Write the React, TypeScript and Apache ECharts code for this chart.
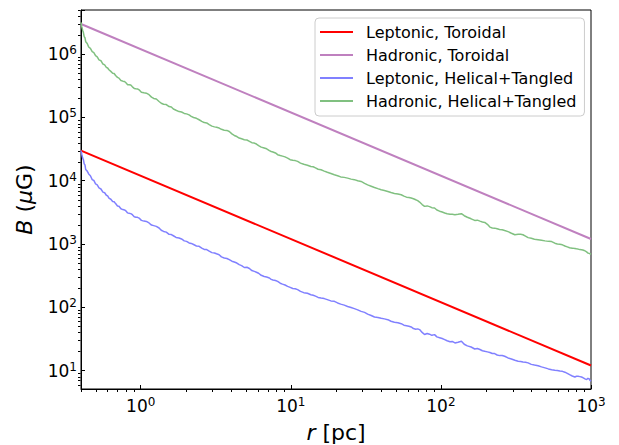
import React, { useEffect, useRef } from 'react';
import * as echarts from 'echarts';

const FONT = 'DejaVu Sans';

const seriesNames = [
  'Leptonic, Toroidal',
  'Hadronic, Toroidal',
  'Leptonic, Helical+Tangled',
  'Hadronic, Helical+Tangled',
];
const seriesColors = ['#ff0000', '#bf80bf', '#8080ff', '#80c080'];

const xMin = 0.4;
const xMax = 1000;
const yMin = 5.1;
const yMax = 5e6;

// Toroidal models: straight lines in log-log space (end points), [r, B]
const leptonicToroidal = [[0.4, 30000], [1000, 12]];
const hadronicToroidal = [[0.4, 3.0e6], [1000, 1200]];

// Helical + tangled models (noisy curves), [r, B]
const leptonicHelical = [
  [0.4, 30000], [0.405, 26000], [0.41, 23000], [0.415, 21500], [0.42, 18500], [0.425, 17800],
  [0.43, 15000], [0.44, 14200], [0.45, 12800], [0.462, 12000], [0.475, 10400], [0.487, 10100],
  [0.5, 8900], [0.513, 8600], [0.527, 7700], [0.543, 7400], [0.56, 6600], [0.575, 6450],
  [0.59, 5900], [0.602, 5750], [0.614, 5300], [0.632, 5100], [0.65, 4700], [0.665, 4650],
  [0.68, 4350], [0.7, 4000], [0.716, 3950], [0.738, 3600], [0.76, 3500], [0.78, 3450],
  [0.8, 3300], [0.818, 3100], [0.836, 3050], [0.858, 3020], [0.88, 2900], [0.905, 2700],
  [0.93, 2650], [0.952, 2640], [0.975, 2570], [1.01, 2360], [1.05, 2300], [1.09, 2270],
  [1.136, 2150], [1.18, 1990], [1.22, 1950], [1.27, 1900], [1.325, 1790], [1.37, 1650],
  [1.42, 1580], [1.48, 1540], [1.545, 1420], [1.6, 1410], [1.65, 1350], [1.72, 1270],
  [1.8, 1245], [1.87, 1200], [1.95, 1120], [2.02, 1100], [2.1, 1040], [2.17, 1020],
  [2.25, 980], [2.35, 930], [2.45, 917], [2.55, 860], [2.65, 820], [2.75, 815], [2.86, 770],
  [2.98, 730], [3.1, 720], [3.2, 700], [3.33, 677], [3.45, 625], [3.6, 600], [3.75, 590],
  [3.89, 565], [4.05, 535], [4.2, 520], [4.37, 500], [4.53, 471], [4.7, 455], [4.9, 425],
  [5.1, 428], [5.3, 410], [5.5, 380], [5.71, 369], [5.9, 358], [6.1, 345], [6.35, 320],
  [6.65, 307], [6.9, 300], [7.2, 290], [7.4, 276], [7.6, 270], [7.9, 265], [8.17, 256],
  [8.5, 240], [8.8, 232], [9.15, 225], [9.52, 214], [9.9, 206], [10.3, 198], [10.7, 196],
  [11.1, 190], [11.6, 178], [12.2, 170], [12.9, 166], [13.6, 158], [14.1, 155], [14.6, 150],
  [15.2, 143], [15.9, 140], [16.7, 137], [17.5, 132], [18.5, 126], [19.5, 124], [20.5, 117],
  [21.5, 112], [22.7, 108], [23.9, 103], [25.2, 99], [26.5, 95], [27.9, 91], [29.4, 86],
  [31, 83], [32.5, 78], [34.3, 74], [36.1, 70], [38, 69], [40, 67], [42, 65.5], [44.3, 63.6],
  [46.5, 60], [49, 58], [51.7, 57], [54.4, 55], [56.7, 52], [59, 51], [61.2, 50], [63.4, 48.8],
  [65.6, 46], [68, 45], [70, 45.5], [72.1, 44.3], [75, 40], [77.8, 37], [81, 38.5], [84, 37.5],
  [87, 36], [90.7, 36.9], [94, 34], [98, 33], [102, 32], [106, 30.8], [110, 29.5], [115, 28.5],
  [119, 28.8], [124, 27.3], [130, 28], [137, 29], [143, 26], [150, 24.5], [159, 23.5],
  [168, 21.9], [175, 22.3], [182, 21.5], [189, 20.5], [196, 20.1], [204, 19.7], [212, 19.3],
  [220, 18.6], [228, 18.5], [237, 17.6], [246, 17.2], [256, 17.3], [266, 16.8], [280, 15.8],
  [295, 15.2], [311, 14.5], [327, 14], [340, 13.9], [352, 13.6], [366, 13.5], [381, 13.2],
  [400, 12.5], [420, 12.2], [444, 11.9], [468, 11.4], [494, 11], [520, 10.6], [547, 10.3],
  [574, 10.1], [597, 10], [620, 9.8], [645, 9.7], [670, 9.4], [695, 9], [720, 8.6], [750, 8.2],
  [781, 7.9], [800, 8.1], [820, 8.1], [843, 8], [865, 7.9], [882, 7.7], [900, 7.5], [918, 7.3],
  [935, 7.2], [952, 7.5], [970, 7.4], [985, 7], [1000, 6.8],
];
const hadronicHelical = [
  [0.4, 3.2e6], [0.405, 2.7e6], [0.41, 2.4e6], [0.415, 2.2e6], [0.42, 1.9e6], [0.425, 1.82e6],
  [0.43, 1.58e6], [0.44, 1.48e6], [0.45, 1.3e6], [0.462, 1.24e6], [0.475, 1.1e6], [0.487, 1.06e6],
  [0.5, 9.5e5], [0.513, 9.1e5], [0.527, 8.15e5], [0.543, 7.9e5], [0.56, 7.0e5], [0.575, 6.8e5],
  [0.59, 6.2e5], [0.602, 6.05e5], [0.614, 5.67e5], [0.632, 5.35e5], [0.65, 5.0e5], [0.665, 4.95e5],
  [0.68, 4.6e5], [0.7, 4.3e5], [0.716, 4.19e5], [0.738, 3.85e5], [0.76, 3.75e5], [0.78, 3.7e5],
  [0.8, 3.5e5], [0.818, 3.3e5], [0.836, 3.29e5], [0.858, 3.25e5], [0.88, 3.05e5], [0.905, 2.88e5],
  [0.93, 2.85e5], [0.952, 2.83e5], [0.975, 2.74e5], [1.01, 2.5e5], [1.05, 2.45e5], [1.09, 2.42e5],
  [1.136, 2.29e5], [1.18, 2.1e5], [1.22, 2.0e5], [1.27, 1.96e5], [1.325, 1.79e5], [1.37, 1.68e5],
  [1.42, 1.62e5], [1.48, 1.6e5], [1.545, 1.49e5], [1.6, 1.46e5], [1.65, 1.36e5], [1.72, 1.3e5],
  [1.8, 1.24e5], [1.87, 1.22e5], [1.95, 1.16e5], [2.02, 1.14e5], [2.1, 1.1e5], [2.17, 1.04e5],
  [2.25, 1.0e5], [2.35, 9.7e4], [2.45, 9.2e4], [2.55, 8.7e4], [2.65, 8.3e4], [2.75, 8.2e4],
  [2.86, 7.7e4], [2.98, 7.3e4], [3.1, 7.1e4], [3.2, 7.0e4], [3.33, 6.8e4], [3.45, 6.5e4],
  [3.6, 6.3e4], [3.75, 6.25e4], [3.89, 6.0e4], [4.05, 5.5e4], [4.2, 5.2e4], [4.37, 5.0e4],
  [4.53, 4.73e4], [4.7, 4.6e4], [4.9, 4.45e4], [5.1, 4.4e4], [5.3, 4.2e4], [5.5, 4.0e4],
  [5.71, 3.94e4], [5.9, 3.8e4], [6.1, 3.6e4], [6.35, 3.4e4], [6.65, 3.29e4], [6.9, 3.2e4],
  [7.2, 3.0e4], [7.4, 2.9e4], [7.6, 2.85e4], [7.9, 2.75e4], [8.17, 2.58e4], [8.5, 2.5e4],
  [8.8, 2.45e4], [9.15, 2.38e4], [9.52, 2.28e4], [9.9, 2.15e4], [10.3, 2.1e4], [10.7, 2.08e4],
  [11.1, 2.02e4], [11.6, 1.9e4], [12.2, 1.82e4], [12.9, 1.76e4], [13.6, 1.68e4], [14.1, 1.66e4],
  [14.6, 1.6e4], [15.2, 1.52e4], [15.9, 1.49e4], [16.7, 1.42e4], [17.5, 1.36e4], [18.5, 1.3e4],
  [19.5, 1.24e4], [20.5, 1.2e4], [21.5, 1.15e4], [22.7, 1.13e4], [23.9, 1.1e4], [25.2, 1.06e4],
  [26.5, 1.04e4], [27.9, 1.0e4], [29.4, 9750], [31, 9100], [32.5, 8600], [34.3, 8200],
  [36.1, 7830], [38, 7500], [40, 7200], [42, 7000], [44.3, 6770], [46.5, 6500], [49, 6300],
  [51.7, 6150], [54.4, 6000], [56.7, 5700], [59, 5500], [61.2, 5450], [63.4, 5330], [65.6, 5200],
  [68, 5000], [70, 4850], [72.1, 4600], [75, 4200], [77.8, 3930], [81, 4000], [84, 3900],
  [87, 3750], [90.7, 3700], [94, 3450], [98, 3300], [102, 3200], [106, 3090], [110, 3000],
  [115, 2950], [119, 2950], [124, 2900], [130, 2950], [137, 3010], [143, 2800], [150, 2650],
  [159, 2500], [168, 2360], [175, 2380], [182, 2300], [189, 2230], [196, 2190], [204, 2050],
  [212, 1850], [220, 1790], [228, 1780], [237, 1740], [246, 1700], [256, 1680], [266, 1630],
  [280, 1570], [295, 1480], [311, 1400], [327, 1420], [340, 1420], [352, 1400], [366, 1330],
  [381, 1260], [400, 1230], [420, 1190], [444, 1170], [468, 1150], [494, 1120], [520, 1100],
  [547, 1090], [574, 1030], [597, 1000], [620, 990], [645, 970], [670, 930], [695, 900],
  [720, 870], [750, 860], [781, 850], [800, 840], [820, 830], [843, 815], [865, 813], [882, 805],
  [900, 790], [918, 770], [935, 750], [952, 720], [970, 710], [985, 700], [1000, 690],
];

const isPow10 = (v: number) => {
  const e = Math.log10(v);
  return Math.abs(e - Math.round(e)) < 1e-6;
};
const tickFormatter = (v: number) => {
  if (!isPow10(v)) return '';
  return '{b|10}{s|' + Math.round(Math.log10(v)) + '}';
};
const tickRich = {
  b: { fontSize: 17, fontFamily: FONT, color: '#000', lineHeight: 20 },
  s: { fontSize: 12, fontFamily: FONT, color: '#000', lineHeight: 4, verticalAlign: 'top' },
};
const nameStyle = {
  fontSize: 22,
  fontFamily: FONT,
  color: '#000',
  rich: {
    i: { fontSize: 22, fontFamily: FONT, fontStyle: 'italic', color: '#000' },
  },
};

export default function App() {
  const ref = useRef<HTMLDivElement>(null);
  useEffect(() => {
    if (!ref.current) return;
    const chart = echarts.init(ref.current, null, { renderer: 'svg' });
    const dataSets = [leptonicToroidal, hadronicToroidal, leptonicHelical, hadronicHelical];
    const widths = [2, 2, 1.5, 1.5];
    chart.setOption({
      animation: false,
      backgroundColor: '#ffffff',
      grid: {
        left: 81,
        top: 10,
        width: 510,
        height: 379,
        show: true,
        borderColor: '#000',
        borderWidth: 1,
        backgroundColor: 'transparent',
        containLabel: false,
        outerBoundsMode: 'none',
      },
      legend: {
        data: seriesNames,
        orient: 'vertical',
        left: 315,
        top: 18,
        icon: 'rect',
        itemWidth: 33,
        itemHeight: 2,
        itemGap: 7,
        padding: [6, 8, 7, 5],
        borderColor: '#cccccc',
        borderWidth: 1,
        borderRadius: 4,
        backgroundColor: 'rgba(255,255,255,0.8)',
        selectedMode: false,
        textStyle: {
          fontSize: 16,
          fontFamily: FONT,
          color: '#000',
          lineHeight: 16,
          padding: [0, 0, 0, 8],
        },
      },
      xAxis: {
        type: 'log',
        logBase: 10,
        min: xMin,
        max: xMax,
        name: '{i|r} [pc]',
        nameLocation: 'middle',
        nameGap: 32,
        nameTextStyle: nameStyle,
        axisLine: { show: true, lineStyle: { color: '#000', width: 1 } },
        axisTick: { show: true, inside: true, length: 4, lineStyle: { color: '#000', width: 1 } },
        axisLabel: { margin: 7, interval: 0, formatter: tickFormatter, rich: tickRich },
        splitLine: { show: false },
        minorTick: { show: false },
      },
      yAxis: {
        type: 'log',
        logBase: 10,
        min: yMin,
        max: yMax,
        name: '{i|B} ({i|μ}G)',
        nameLocation: 'middle',
        nameGap: 46,
        nameRotate: 90,
        nameTextStyle: nameStyle,
        axisLine: { show: true, lineStyle: { color: '#000', width: 1 } },
        axisTick: { show: true, inside: true, length: 4, lineStyle: { color: '#000', width: 1 } },
        axisLabel: { margin: 4, interval: 0, formatter: tickFormatter, rich: tickRich },
        splitLine: { show: false },
        minorTick: { show: false },
      },
      series: seriesNames.map((name, i) => ({
        name,
        type: 'line',
        data: dataSets[i],
        symbol: 'none',
        showSymbol: false,
        smooth: false,
        clip: true,
        lineStyle: { color: seriesColors[i], width: widths[i] },
        itemStyle: { color: seriesColors[i] },
        emphasis: { disabled: true },
        z: 2 + i,
      })),
    });

    // minor ticks (outward), positioned through the axes' own scales
    const px = (v: number) => chart.convertToPixel({ xAxisIndex: 0 }, v) as number;
    const py = (v: number) => chart.convertToPixel({ yAxisIndex: 0 }, v) as number;
    const bottom = Math.round(py(yMin)) + 0.5;
    const left = Math.round(px(xMin)) - 0.5;
    const graphics: any[] = [];
    const minorVals = (lo: number, hi: number) => {
      const out: number[] = [];
      for (let e = -2; e <= 7; e++) {
        for (let m = 2; m <= 9; m++) {
          const v = m * Math.pow(10, e);
          if (v >= lo && v <= hi) out.push(v);
        }
      }
      return out;
    };
    minorVals(xMin, xMax).forEach((v) => {
      const x = Math.round(px(v)) + 0.5;
      graphics.push({
        type: 'line',
        silent: true,
        shape: { x1: x, y1: bottom, x2: x, y2: bottom + 2.5 },
        style: { stroke: '#000', lineWidth: 1 },
      });
    });
    minorVals(yMin, yMax).forEach((v) => {
      const y = Math.round(py(v)) + 0.5;
      graphics.push({
        type: 'line',
        silent: true,
        shape: { x1: left, y1: y, x2: left - 2.5, y2: y },
        style: { stroke: '#000', lineWidth: 1 },
      });
    });
    chart.setOption({ graphic: graphics });

    return () => chart.dispose();
  }, []);
  return (
    <div
      ref={ref}
      style={{ position: 'fixed', left: 0, top: 0, width: 619, height: 445, background: '#fff' }}
    />
  );
}
